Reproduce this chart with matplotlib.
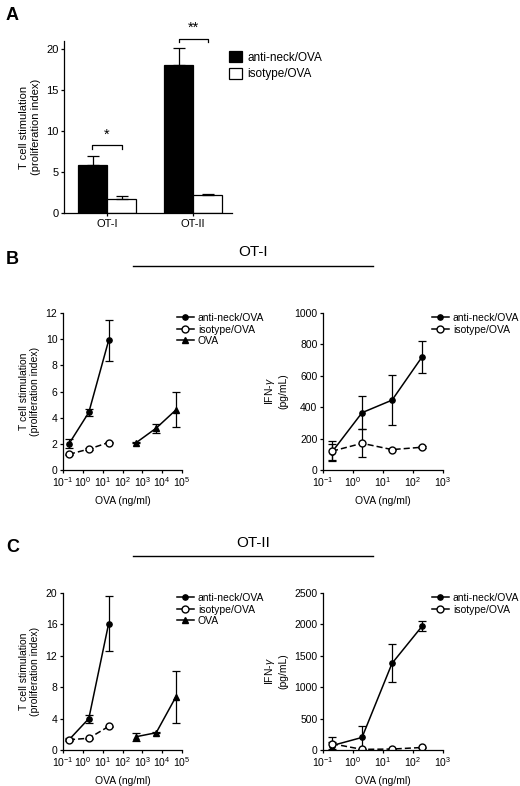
import matplotlib
matplotlib.use("Agg")
import matplotlib.pyplot as plt
from matplotlib.lines import Line2D
from matplotlib.ticker import LogLocator, NullLocator, LogFormatterSciNotation

plt.rcParams['font.family'] = ['Liberation Sans', 'DejaVu Sans']
plt.rcParams['mathtext.fontset'] = 'custom'
plt.rcParams['mathtext.rm'] = 'Liberation Sans'
plt.rcParams['mathtext.it'] = 'Liberation Sans:italic'
plt.rcParams['font.size'] = 7.5
plt.rcParams['axes.linewidth'] = 0.9
plt.rcParams['xtick.major.width'] = 0.9
plt.rcParams['ytick.major.width'] = 0.9
plt.rcParams['xtick.major.size'] = 2.5
plt.rcParams['ytick.major.size'] = 2.5

# ---- data ----
groups = ["OT-I", "OT-II"]
a_anti = [5.9, 18.1]
a_anti_err = [1.1, 2.1]
a_iso = [1.7, 2.2]
a_iso_err = [0.35, 0.15]

dose_ab = [0.2, 2, 20]
dose_ova = [500, 5000, 50000]
dose_ifn = [0.2, 2, 20, 200]

b_anti = [2.0, 4.4, 9.9]
b_anti_err = [0.35, 0.3, 1.55]
b_iso = [1.2, 1.6, 2.1]
b_iso_err = [0.05, 0.05, 0.05]
b_ova = [2.1, 3.2, 4.6]
b_ova_err = [0.05, 0.35, 1.35]

b_ifn_anti = [115, 365, 445, 720]
b_ifn_anti_err = [50, 105, 158, 100]
b_ifn_iso = [120, 170, 130, 145]
b_ifn_iso_err = [65, 90, 5, 5]

c_anti = [1.3, 4.0, 16.1]
c_anti_err = [0.2, 0.5, 3.5]
c_iso = [1.3, 1.5, 3.0]
c_iso_err = [0.05, 0.05, 0.05]
c_ova = [1.7, 2.2, 6.8]
c_ova_err = [0.5, 0.05, 3.3]

c_ifn_anti = [70, 200, 1380, 1970]
c_ifn_anti_err = [60, 190, 300, 80]
c_ifn_iso = [100, 10, 15, 40]
c_ifn_iso_err = [110, 5, 5, 10]

W, H = 520, 786
fig = plt.figure(figsize=(W / 100, H / 100), dpi=100)


def px_axes(left, right, top, bottom):
    return fig.add_axes([left / W, 1 - bottom / H, (right - left) / W, (bottom - top) / H])


def style(ax):
    ax.spines['top'].set_visible(False)
    ax.spines['right'].set_visible(False)
    ax.tick_params(direction='out', pad=1.5)


# ---- panel A ----
ax = px_axes(64, 232, 41, 213)
style(ax)
w = 0.337
xs = [0, 1]
ax.bar([x - w / 2 for x in xs], a_anti, w, color='black', edgecolor='black', lw=0.9,
       yerr=[[0, 0], a_anti_err], capsize=4, error_kw=dict(elinewidth=0.9, capthick=0.9),
       label='anti-neck/OVA')
ax.bar([x + w / 2 for x in xs], a_iso, w, color='white', edgecolor='black', lw=0.9,
       yerr=[[0, 0], a_iso_err], capsize=4, error_kw=dict(elinewidth=0.9, capthick=0.9),
       label='isotype/OVA')
ax.set_xlim(-0.5, 1.45)
ax.set_ylim(0, 21)
ax.set_yticks([0, 5, 10, 15, 20])
ax.tick_params(labelsize=8)
ax.set_xticks(xs)
ax.set_xticklabels(groups)
ax.set_ylabel("T cell stimulation\n(proliferation index)", labelpad=4, fontsize=8)
for x0, yb, star in [(0, 8.3, '*'), (1, 21.3, '**')]:
    ax.plot([x0 - 0.17, x0 - 0.17, x0 + 0.17, x0 + 0.17], [yb - 0.45, yb, yb, yb - 0.45],
            color='black', lw=0.9, clip_on=False)
    ax.text(x0, yb + 0.4, star, ha='center', va='bottom', fontsize=10.5)
ax.legend(loc='upper left', bbox_to_anchor=(229 / W, 1 - 51 / H), bbox_transform=fig.transFigure,
          frameon=False, handlelength=1.1, handleheight=1.1, handletextpad=0.45, labelspacing=0.35,
          fontsize=8.5, borderaxespad=0, borderpad=0)


def line_panel(ax, top, series, xmax, ylim, yticks, ylabel, legend_x):
    style(ax)
    ax.set_xscale('log')
    handles = []
    for x, y, e, mk, face, ls, lab in series:
        size = 5 if face == 'white' else 3.8
        dash = (4, 2) if ls == '--' else (None, None)
        ax.errorbar(x, y, yerr=e, marker=mk, mfc=face, mec='black', color='black',
                    ms=size, lw=1.1, ls=ls, capsize=3, elinewidth=0.9, capthick=0.9,
                    dashes=dash)
        handles.append(Line2D([], [], marker=mk, mfc=face, mec='black', color='black',
                              ms=size, lw=1.1, ls='-', label=lab))
    ax.set_xlim(0.1, xmax)
    ax.set_ylim(*ylim)
    ax.set_yticks(yticks)
    ax.xaxis.set_major_locator(LogLocator(base=10, numticks=12))
    ax.xaxis.set_minor_locator(NullLocator())
    ax.xaxis.set_major_formatter(LogFormatterSciNotation())
    ax.set_xlabel("OVA (ng/ml)", labelpad=5)
    ax.set_ylabel(ylabel, labelpad=4)
    ax.legend(handles=handles, loc='upper left', bbox_to_anchor=(legend_x / W, 1 - top / H),
              bbox_transform=fig.transFigure, frameon=False, handlelength=1.6,
              handletextpad=0.4, labelspacing=0.15, fontsize=7.5, borderaxespad=0, borderpad=0)


tcell = "T cell stimulation\n(proliferation index)"
ifn = "IFN-$\\gamma$\n(pg/mL)"

for top, bottom, t, tv, line_y, title_y, letter_y, lt, rt in [
    (313, 470, 'B', 'OT-I', 266, 252, 259,
     (b_anti, b_anti_err, b_iso, b_iso_err, b_ova, b_ova_err, (0, 12), [0, 2, 4, 6, 8, 10, 12]),
     (b_ifn_anti, b_ifn_anti_err, b_ifn_iso, b_ifn_iso_err, (0, 1000), [0, 200, 400, 600, 800, 1000])),
    (593, 750, 'C', 'OT-II', 556, 543, 548,
     (c_anti, c_anti_err, c_iso, c_iso_err, c_ova, c_ova_err, (0, 20), [0, 4, 8, 12, 16, 20]),
     (c_ifn_anti, c_ifn_anti_err, c_ifn_iso, c_ifn_iso_err, (0, 2500), [0, 500, 1000, 1500, 2000, 2500])),
]:
    axl = px_axes(63, 182, top, bottom)
    an, ane, iso, isoe, ova, ovae, yl, yt = lt
    line_panel(axl, top, [
        (dose_ab, an, ane, 'o', 'black', '-', 'anti-neck/OVA'),
        (dose_ab, iso, isoe, 'o', 'white', '--', 'isotype/OVA'),
        (dose_ova, ova, ovae, '^', 'black', '-', 'OVA'),
    ], 1e5, yl, yt, tcell, 177)
    axr = px_axes(323, 443, top, bottom)
    an, ane, iso, isoe, yl, yt = rt
    line_panel(axr, top, [
        (dose_ifn, an, ane, 'o', 'black', '-', 'anti-neck/OVA'),
        (dose_ifn, iso, isoe, 'o', 'white', '--', 'isotype/OVA'),
    ], 1e3, yl, yt, ifn, 432)
    fig.text(253 / W, 1 - title_y / H, tv, ha='center', va='center', fontsize=11)
    fig.add_artist(Line2D([133 / W, 373 / W], [1 - line_y / H] * 2, color='black', lw=1.0))
    fig.text(6 / W, 1 - letter_y / H, t, ha='left', va='center', fontsize=13, fontweight='bold')

fig.text(6 / W, 1 - 15 / H, 'A', ha='left', va='center', fontsize=13, fontweight='bold')

fig.savefig("out.png", dpi=100)
